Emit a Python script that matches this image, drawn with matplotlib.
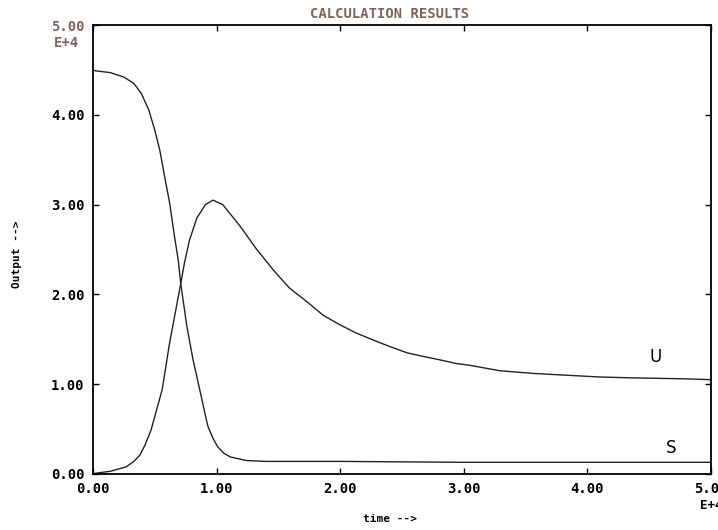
import matplotlib
matplotlib.use("Agg")
import matplotlib.pyplot as plt
import matplotlib.transforms as mtransforms

# time axis in units of E+4, output in units of E+4
t_s = [0, 0.02, 0.14, 0.25, 0.33, 0.39, 0.45, 0.50, 0.54, 0.58, 0.62, 0.66, 0.69, 0.71,
       0.76, 0.81, 0.87, 0.90, 0.93, 0.97, 1.01, 1.06, 1.11, 1.24, 1.40, 1.60, 2.0, 3.0,
       4.0, 5.0]
s_vals = [4.50, 4.49, 4.47, 4.42, 4.35, 4.24, 4.06, 3.83, 3.61, 3.31, 3.02, 2.64, 2.38, 2.12,
          1.64, 1.27, 0.90, 0.71, 0.53, 0.40, 0.30, 0.23, 0.19, 0.15, 0.14, 0.14, 0.14, 0.13,
          0.13, 0.13]

t_u = [0, 0.03, 0.14, 0.27, 0.33, 0.38, 0.42, 0.47, 0.56, 0.62, 0.68, 0.71, 0.74, 0.78,
       0.84, 0.91, 0.97, 1.05, 1.19, 1.32, 1.46, 1.59, 1.73, 1.86, 2.00, 2.13, 2.27, 2.40,
       2.54, 2.67, 2.81, 2.94, 3.05, 3.29, 3.56, 3.83, 4.10, 4.37, 4.78, 5.0]
u_vals = [0.0, 0.01, 0.03, 0.08, 0.14, 0.21, 0.32, 0.49, 0.94, 1.46, 1.90, 2.12, 2.35, 2.60,
          2.85, 3.00, 3.05, 3.00, 2.76, 2.51, 2.27, 2.07, 1.92, 1.77, 1.66, 1.57, 1.49, 1.42,
          1.35, 1.31, 1.27, 1.23, 1.21, 1.15, 1.12, 1.10, 1.08, 1.07, 1.06, 1.05]

ticks = [0, 1, 2, 3, 4, 5]
tick_labels = ["0.00", "1.00", "2.00", "3.00", "4.00", "5.00"]

brown = "#7d6659"
mono = "DejaVu Sans Mono"

fig = plt.figure(figsize=(7.18, 5.30), dpi=100)
ax = fig.add_axes([0.1295, 0.1057, 0.8607, 0.8471])

ax.plot(t_s, s_vals, color="#222222", lw=1.0)
ax.plot(t_u, u_vals, color="#222222", lw=1.0)

ax.text(4.55, 1.30, "U", fontsize=12, ha="center", va="center")
ax.text(4.68, 0.29, "S", fontsize=12, ha="center", va="center")

ax.set_xlim(0, 5)
ax.set_ylim(0, 5)
ax.set_xticks(ticks)
ax.set_yticks(ticks)
ax.set_xticklabels(tick_labels, family=mono, fontweight="bold", fontsize=10)
ax.set_yticklabels(tick_labels, family=mono, fontweight="bold", fontsize=10)
ax.get_yticklabels()[-1].set_color(brown)
ax.tick_params(direction="in", length=4, width=1, top=True, right=True, pad=6)
for sp in ax.spines.values():
    sp.set_linewidth(1.3)

# exponent markers
off = mtransforms.offset_copy(ax.transData, fig=fig, x=-10, y=-13, units="points")
ax.text(0, 5, "E+4", transform=off, ha="right", va="center", family=mono,
        fontweight="bold", fontsize=10, color=brown)
off2 = mtransforms.offset_copy(ax.transData, fig=fig, x=0, y=-23, units="points")
ax.text(5, 0, "E+4", transform=off2, ha="center", va="center", family=mono,
        fontweight="bold", fontsize=9, clip_on=False)

fig.text(0.543, 0.974, "CALCULATION RESULTS", ha="center", va="center", family=mono,
         fontweight="bold", fontsize=10, color=brown)
fig.text(0.543, 0.021, "time -->", ha="center", va="center", family=mono,
         fontweight="bold", fontsize=8)
fig.text(0.024, 0.52, "Output -->", ha="center", va="center", rotation=90, family=mono,
         fontweight="bold", fontsize=8)

fig.savefig("out.png", dpi=100)
